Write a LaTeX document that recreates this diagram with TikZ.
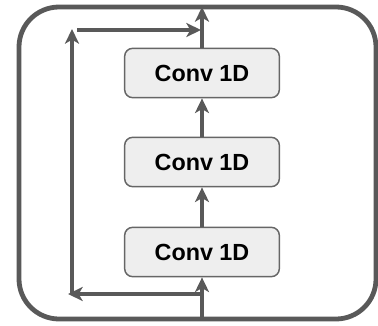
\documentclass[tikz,border=0pt]{standalone}
\usepackage{fontspec}
\setmainfont{Liberation Sans}
\usetikzlibrary{arrows.meta}
\definecolor{edge}{HTML}{595959}
\definecolor{boxfill}{HTML}{EEEEEE}
\definecolor{boxline}{HTML}{666666}
\begin{document}
\begin{tikzpicture}[x=0.75pt,y=-0.75pt,
  conv/.style={draw=boxline, line width=1.1pt, fill=boxfill, rounded corners=6pt,
    minimum width=116pt, minimum height=37pt, inner sep=0pt,
    font=\fontsize{17.5}{20}\selectfont\bfseries},
  flow/.style={draw=edge, line width=2.3pt,
    -{Stealth[length=11pt,width=10.5pt,inset=3pt]}},
  frame/.style={draw=edge, line width=3.6pt, rounded corners=30pt}]
\useasboundingbox (0,0) rectangle (378,325);
% residual block outline
\draw[frame] (19,7) rectangle (376,319);
% stacked convolutions
\node[conv] (c1) at (202,73) {Conv 1D};
\node[conv] (c2) at (202,162) {Conv 1D};
\node[conv] (c3) at (202,252) {Conv 1D};
% input, skip path and output points
\coordinate (in) at (202,319);
\coordinate (split) at (202,294);
\coordinate (skipend) at (68,294);
\coordinate (upstart) at (72,293);
\coordinate (upend) at (72,29);
\coordinate (joinstart) at (77,30);
\coordinate (join) at (201,30);
\coordinate (out) at (202,7);
% main path
\draw[flow] (in) -- (c3);
\draw[flow] (c3) -- (c2);
\draw[flow] (c2) -- (c1);
\draw[flow] (c1) -- (out);
% skip connection
\draw[flow] (split) -- (skipend);
\draw[flow] (upstart) -- (upend);
\draw[flow] (joinstart) -- (join);
\end{tikzpicture}
\end{document}
